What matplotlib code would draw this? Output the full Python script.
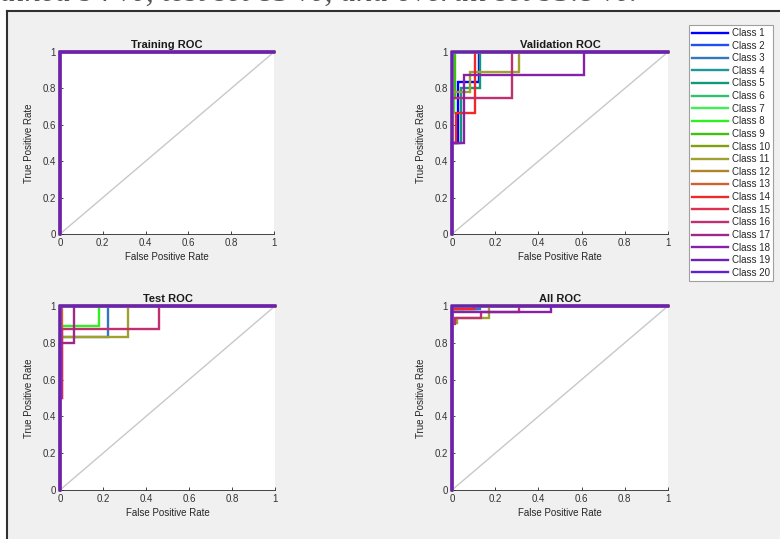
import matplotlib
matplotlib.use("Agg")
import matplotlib.pyplot as plt
from matplotlib.lines import Line2D
from matplotlib.patches import Rectangle

plt.rcParams['font.family'] = ['Liberation Sans', 'DejaVu Sans']

W, H = 780, 539

class_names = [f"Class {i}" for i in range(1, 21)]
class_colors = ['#0000ff', '#2050f0', '#3078c0', '#209898', '#10987a', '#30c070',
                '#40f050', '#30f020', '#40c010', '#80a010', '#a0a030', '#b08428',
                '#d06030', '#f02828', '#e03050', '#c03070', '#a02888', '#8820a8',
                '#7020b8', '#6020d8']

PERFECT = ([0, 0, 1], [0, 1, 1])

# ROC curves: class index (0-based) -> (fpr list, tpr list); others are perfect
train_curves = {}

val_curves = {
    0: ([0, 0, 0.03, 0.03, 0.125, 0.125, 1], [0, 0.5, 0.5, 0.833, 0.833, 1, 1]),
    4: ([0, 0, 0.04, 0.04, 0.13, 0.13, 1], [0, 0.5, 0.5, 0.8, 0.8, 1, 1]),
    7: ([0, 0, 0.01, 0.01, 1], [0, 0.667, 0.667, 1, 1]),
    8: ([0, 0, 0.015, 0.015, 1], [0, 0.75, 0.75, 1, 1]),
    10: ([0, 0, 0.085, 0.085, 0.31, 0.31, 1], [0, 0.778, 0.778, 0.889, 0.889, 1, 1]),
    13: ([0, 0, 0.02, 0.02, 0.105, 0.105, 1], [0, 0.5, 0.5, 0.667, 0.667, 1, 1]),
    15: ([0, 0, 0.28, 0.28, 1], [0, 0.75, 0.75, 1, 1]),
    17: ([0, 0, 0.055, 0.055, 0.61, 0.61, 1], [0, 0.5, 0.5, 0.875, 0.875, 1, 1]),
}

test_curves = {
    2: ([0, 0, 0.223, 0.223, 1], [0, 0.833, 0.833, 1, 1]),
    7: ([0, 0, 0.183, 0.183, 1], [0, 0.889, 0.889, 1, 1]),
    10: ([0, 0, 0.318, 0.318, 1], [0, 0.833, 0.833, 1, 1]),
    12: ([0, 0, 0.008, 0.008, 1], [0, 0.5, 0.5, 1, 1]),
    15: ([0, 0, 0.01, 0.01, 0.462, 0.462, 1], [0, 0.5, 0.5, 0.875, 0.875, 1, 1]),
    16: ([0, 0, 0.067, 0.067, 1], [0, 0.8, 0.8, 1, 1]),
}

all_curves = {
    0: ([0, 0, 0.12, 0.12, 1], [0, 0.985, 0.985, 1, 1]),
    2: ([0, 0, 0.13, 0.13, 1], [0, 0.985, 0.985, 1, 1]),
    4: ([0, 0, 0.05, 0.05, 1], [0, 0.985, 0.985, 1, 1]),
    7: ([0, 0, 0.09, 0.09, 1], [0, 0.985, 0.985, 1, 1]),
    10: ([0, 0, 0.022, 0.022, 0.17, 0.17, 1], [0, 0.905, 0.905, 0.935, 0.935, 1, 1]),
    13: ([0, 0, 0.1, 0.1, 1], [0, 0.985, 0.985, 1, 1]),
    15: ([0, 0, 0.012, 0.012, 0.136, 0.136, 0.31, 0.31, 1],
         [0, 0.9, 0.9, 0.935, 0.935, 0.966, 0.966, 1, 1]),
    17: ([0, 0, 0.46, 0.46, 1], [0, 0.966, 0.966, 1, 1]),
}

panel_titles = ['Training ROC', 'Validation ROC', 'Test ROC', 'All ROC']
panel_curves = [train_curves, val_curves, test_curves, all_curves]
# pixel boxes: left, right, top, bottom
panel_boxes = [(60, 274, 52, 234), (452, 668, 52, 234),
               (60, 275, 306, 490), (452, 668, 306, 490)]
ticks = [0, 0.2, 0.4, 0.6, 0.8, 1]
tick_labels = ['0', '0.2', '0.4', '0.6', '0.8', '1']

fig = plt.figure(figsize=(W / 100, H / 100), dpi=100)
fig.patch.set_facecolor('white')

# window background and frame
fig.patches.append(Rectangle((7 / W, 0), 1 - 7 / W, (H - 11) / H, transform=fig.transFigure,
                             facecolor='#f0f0f0', edgecolor='none', zorder=-10))
fig.lines.append(Line2D([7 / W, 1], [(H - 11) / H, (H - 11) / H], transform=fig.transFigure,
                        color='#303030', lw=1.5))
fig.lines.append(Line2D([7 / W, 7 / W], [0, (H - 11) / H], transform=fig.transFigure,
                        color='#303030', lw=1.5))

# caption of the page above, cut off by the screenshot's top edge
fig.text(0.0, 1 - 1 / H, "ained 94 %, test set 85 %, and overall set 95.8 %.",
         fontsize=23, family='Liberation Serif', style='italic', color='#555555',
         va='baseline', ha='left')

handles = []
for title, curves, (l, r, t, b) in zip(panel_titles, panel_curves, panel_boxes):
    ax = fig.add_axes([l / W, (H - b) / H, (r - l) / W, (b - t) / H])
    ax.set_facecolor('white')
    ax.plot([0, 1], [0, 1], color='#c8c8c8', lw=1.0, zorder=1)
    hs = []
    for i in range(20):
        fpr, tpr = curves.get(i, PERFECT)
        h, = ax.plot(fpr, tpr, color=class_colors[i], lw=1.7, zorder=2 + i,
                     solid_joinstyle='miter', clip_on=False)
        hs.append(h)
    if not handles:
        handles = hs
    ax.set_xlim(0, 1)
    ax.set_ylim(0, 1)
    ax.set_xticks(ticks)
    ax.set_xticklabels(tick_labels)
    ax.set_yticks(ticks)
    ax.set_yticklabels(tick_labels)
    for s in ['top', 'right']:
        ax.spines[s].set_visible(False)
    for s in ['left', 'bottom']:
        ax.spines[s].set_color('#262626')
        ax.spines[s].set_linewidth(0.6)
    ax.tick_params(direction='in', length=2.5, width=0.6, colors='#262626',
                   labelsize=7, labelcolor='#333333', pad=3)
    ax.set_title(title, fontsize=8, fontweight='bold', color='#1a1a1a', pad=3)
    ax.set_xlabel('False Positive Rate', fontsize=7, color='#262626', labelpad=3)
    ax.set_ylabel('True Positive Rate', fontsize=7, color='#262626', labelpad=6)

leg = fig.legend(handles, class_names, loc='upper left',
                 bbox_to_anchor=(689 / W, 1 - 25 / H), fontsize=7,
                 handlelength=3.7, handletextpad=0.4, labelspacing=0.27,
                 borderpad=0.3, borderaxespad=0, fancybox=False, framealpha=1,
                 edgecolor='#a0a0a0', facecolor='white')
leg.get_frame().set_linewidth(0.8)
for t in leg.get_texts():
    t.set_color('#262626')

fig.savefig('out.png', dpi=100, facecolor=fig.get_facecolor())
